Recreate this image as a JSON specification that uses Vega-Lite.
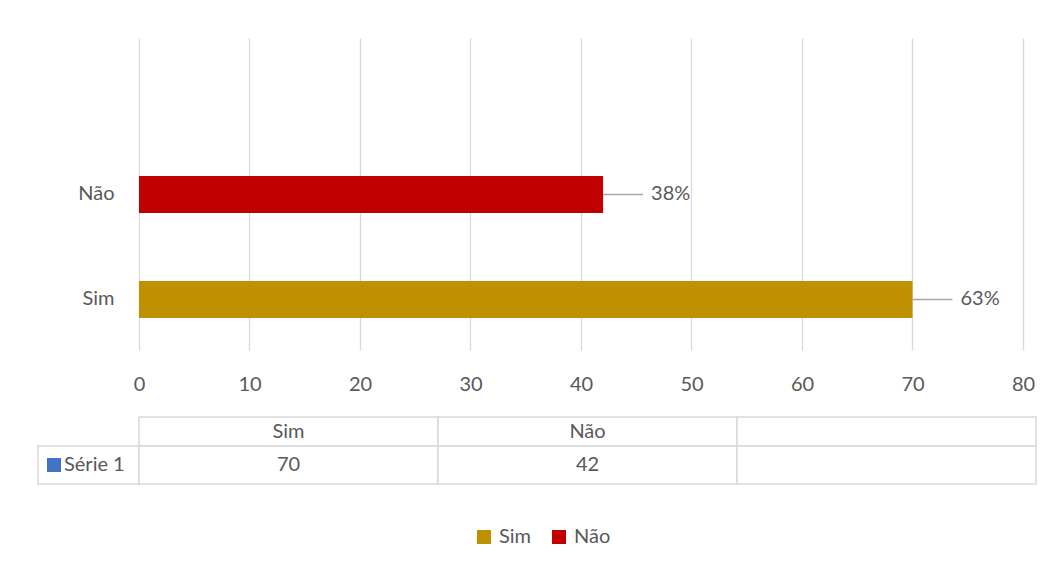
{
  "$schema": "https://vega.github.io/schema/vega-lite/v6.json",
  "background": "white",
  "padding": {"left": 37, "top": 38, "right": 15, "bottom": 20},
  "bounds": "flush",
  "spacing": 67,
  "config": {
    "view": {"stroke": null},
    "font": "Lato",
    "text": {"font": "Lato", "fontSize": 20, "color": "#595959"},
    "axis": {"labelFont": "Lato", "labelFontSize": 20, "labelColor": "#595959", "title": null}
  },
  "datasets": {
    "answers": [
      {"cat": "Sim", "value": 70, "pct": "63%"},
      {"cat": "Não", "value": 42, "pct": "38%"}
    ],
    "cells": [
      {"cat": "Sim", "value": 70},
      {"cat": "Não", "value": 42},
      {"cat": " ", "value": null}
    ],
    "series": [{"series": "Série 1"}]
  },
  "vconcat": [
    {
      "width": 985,
      "height": 312,
      "data": {"name": "answers"},
      "encoding": {
        "y": {
          "field": "cat",
          "type": "nominal",
          "scale": {"domain": ["Não", "Sim"], "paddingInner": 0.648, "paddingOuter": 0.8096, "align": 0.8116},
          "axis": {"orient": "left", "offset": -101, "labelPadding": 25, "ticks": false, "domain": false, "grid": false}
        },
        "x": {
          "field": "value",
          "type": "quantitative",
          "scale": {"domain": [-9.14, 80], "nice": false, "zero": false},
          "axis": {
            "values": [0, 10, 20, 30, 40, 50, 60, 70, 80],
            "grid": true,
            "gridColor": "#D9D9D9",
            "gridWidth": 1.3,
            "domain": false,
            "ticks": false,
            "tickSize": 0,
            "labelFlush": false,
            "labelPadding": 24
          }
        }
      },
      "layer": [
        {
          "mark": {"type": "bar"},
          "encoding": {
            "x2": {"datum": 0},
            "color": {
              "field": "cat",
              "type": "nominal",
              "scale": {"domain": ["Sim", "Não"], "range": ["#BF9000", "#C00000"]},
              "legend": {
                "orient": "none",
                "legendX": 436,
                "legendY": 489,
                "direction": "horizontal",
                "title": null,
                "symbolType": "square",
                "symbolSize": 196,
                "symbolStrokeWidth": 0,
                "labelFont": "Lato",
                "labelFontSize": 20,
                "labelColor": "#595959",
                "labelOffset": 5,
                "columnPadding": 17
              }
            }
          }
        },
        {
          "mark": {"type": "rule", "x2Offset": 40, "color": "#A6A6A6", "strokeWidth": 1.5},
          "encoding": {"x2": {"field": "value"}}
        },
        {
          "mark": {"type": "text", "align": "left", "dx": 48, "fontSize": 20, "color": "#595959"},
          "encoding": {"text": {"field": "pct"}}
        }
      ]
    },
    {
      "bounds": "flush",
      "spacing": 0,
      "vconcat": [
        {
          "width": 998,
          "height": 29,
          "data": {"name": "cells"},
          "encoding": {
            "x": {
              "field": "cat",
              "type": "nominal",
              "scale": {"domain": ["Sim", "Não", " "], "range": [101, 998], "paddingInner": 0, "paddingOuter": 0},
              "axis": null
            }
          },
          "layer": [
            {"mark": {"type": "rect", "fill": "white", "stroke": "#D9D9D9", "strokeWidth": 1.5}},
            {"mark": {"type": "text"}, "encoding": {"text": {"field": "cat"}}}
          ]
        },
        {
          "width": 998,
          "height": 38,
          "resolve": {"scale": {"x": "independent"}},
          "layer": [
            {
              "data": {"name": "series"},
              "encoding": {
                "x": {
                  "field": "series",
                  "type": "nominal",
                  "scale": {"range": [0, 101], "paddingInner": 0, "paddingOuter": 0},
                  "axis": null
                }
              },
              "layer": [
                {"mark": {"type": "rect", "fill": "white", "stroke": "#D9D9D9", "strokeWidth": 1.5}},
                {"mark": {"type": "point", "shape": "square", "filled": true, "size": 196, "color": "#4472C4", "opacity": 1, "xOffset": -34.5}},
                {"mark": {"type": "text", "align": "left", "dx": -24.5}, "encoding": {"text": {"field": "series"}}}
              ]
            },
            {
              "data": {"name": "cells"},
              "encoding": {
                "x": {
                  "field": "cat",
                  "type": "nominal",
                  "scale": {"domain": ["Sim", "Não", " "], "range": [101, 998], "paddingInner": 0, "paddingOuter": 0},
                  "axis": null
                }
              },
              "layer": [
                {"mark": {"type": "rect", "fill": "white", "stroke": "#D9D9D9", "strokeWidth": 1.5}},
                {
                  "transform": [{"filter": "isValid(datum.value)"}],
                  "mark": {"type": "text"},
                  "encoding": {"text": {"field": "value", "type": "quantitative"}}
                }
              ]
            }
          ]
        }
      ]
    }
  ]
}
